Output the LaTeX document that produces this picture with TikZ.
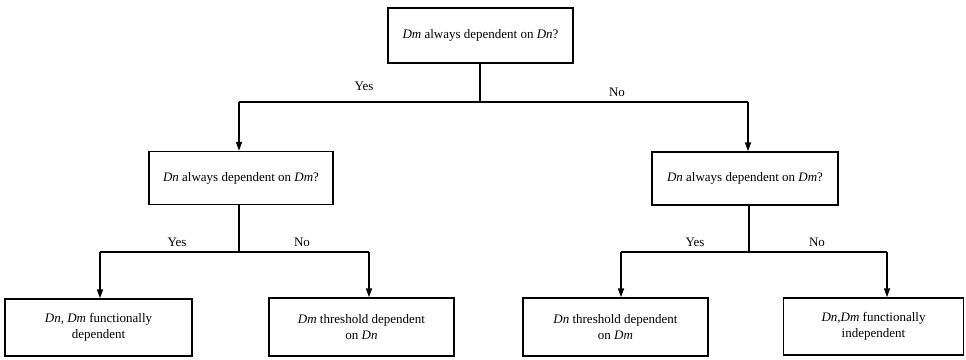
\documentclass[tikz,border=0pt]{standalone}
\usepackage{fontspec}
\setmainfont{Liberation Serif}
\usetikzlibrary{arrows.meta}
\begin{document}
\begin{tikzpicture}[x=1pt,y=-1pt,
  box/.style={draw, line width=1.4pt, inner sep=0pt, align=center,
    font=\fontsize{13}{15.5}\selectfont},
  link/.style={line width=1.6pt},
  arr/.style={line width=1.6pt, -{Triangle[length=9pt,width=6pt]}},
  answer/.style={font=\fontsize{13}{15.5}\selectfont}]
\useasboundingbox (0,0) rectangle (966,359);

% decision boxes
\node[box, minimum width=185pt, minimum height=55pt] (top) at (480.5,35.5)
  {\textit{Dm} always dependent on \textit{Dn}?};
\node[box, minimum width=184pt, minimum height=53pt] (midL) at (241,178)
  {\textit{Dn} always dependent on \textit{Dm}?};
\node[box, minimum width=186pt, minimum height=53pt] (midR) at (745,178.5)
  {\textit{Dn} always dependent on \textit{Dm}?};

% outcome boxes
\node[box, minimum width=187pt, minimum height=57pt] (botL1) at (98.5,327.5)
  {\textit{Dn, Dm} functionally\\dependent};
\node[box, minimum width=185pt, minimum height=58pt] (botL2) at (361.5,327)
  {\textit{Dm} threshold dependent\\on \textit{Dn}};
\node[box, minimum width=185pt, minimum height=58pt] (botR1) at (615.5,327)
  {\textit{Dn} threshold dependent\\on \textit{Dm}};
\node[box, minimum width=180pt, minimum height=57pt] (botR2) at (873.5,326.5)
  {\textit{Dn,Dm} functionally\\independent};

% branch points
\coordinate (jT) at (480,102);
\coordinate (jTL) at (239,102);
\coordinate (jTR) at (748,102);
\coordinate (jL) at (239,252);
\coordinate (jLL) at (100,252);
\coordinate (jLR) at (369,252);
\coordinate (jR) at (749,252);
\coordinate (jRL) at (621,252);
\coordinate (jRR) at (887,252);

% first level
\draw[link] (top.south -| jT) -- (jT);
\draw[link] (jTL) -- (jTR);
\draw[arr] (jTL) -- (midL.north -| jTL);
\draw[arr] (jTR) -- (midR.north -| jTR);

% second level, left
\draw[link] (midL.south -| jL) -- (jL);
\draw[link] (jLL) -- (jLR);
\draw[arr] (jLL) -- (botL1.north -| jLL);
\draw[arr] (jLR) -- (botL2.north -| jLR);

% second level, right
\draw[link] (midR.south -| jR) -- (jR);
\draw[link] (jRL) -- (jRR);
\draw[arr] (jRL) -- (botR1.north -| jRL);
\draw[arr] (jRR) -- (botR2.north -| jRR);

% answers
\node[answer] (yT) at (364,86) {Yes};
\node[answer] (nT) at (617,92) {No};
\node[answer] (yL) at (177,242) {Yes};
\node[answer] (nL) at (302,242) {No};
\node[answer] (yR) at (695,242) {Yes};
\node[answer] (nR) at (817,242) {No};
\end{tikzpicture}
\end{document}
